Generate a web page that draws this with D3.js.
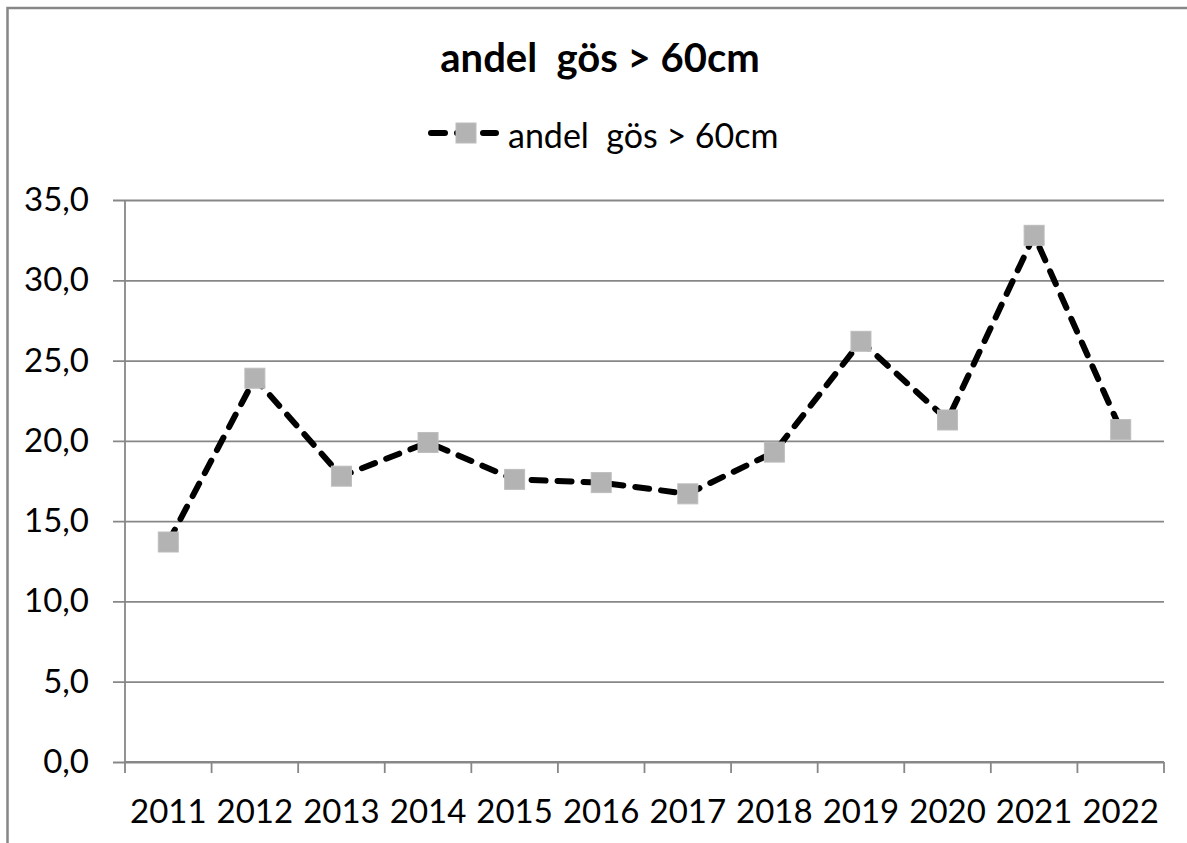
<!DOCTYPE html>
<html>
<head>
<meta charset="utf-8">
<script src="https://cdn.jsdelivr.net/npm/d3@7"></script>
<style>
	html, body { margin: 0; background: #fff; overflow: hidden; }
	svg { display: block; font-family: Lato, "Open Sans", sans-serif; }
	text { white-space: pre; }
</style>
</head>
<body>
<div id="chart"></div>
<script>
	const years = ['2011', '2012', '2013', '2014', '2015', '2016', '2017', '2018', '2019', '2020', '2021', '2022'];
	const andel = [13.7, 23.9, 17.8, 19.9, 17.6, 17.4, 16.7, 19.3, 26.2, 21.3, 32.8, 20.7];
	const yTicks = [0, 5, 10, 15, 20, 25, 30, 35];
	const seriesName = 'andel  gös > 60cm';

	const W = 1187, H = 843;
	let margin = { top: 200, right: 23, bottom: 81, left: 125 },
		width = W - margin.left - margin.right,
		height = H - margin.top - margin.bottom;

	const gridColor = '#878787';

	let svg = d3.select('#chart')
		.append('svg')
		.attr('width', W)
		.attr('height', H);

	//chart border: only left and top edges are inside the picture
	svg.append('path')
		.attr('d', `M7.5,${H}V8H${W}`)
		.attr('fill', 'none')
		.attr('stroke', gridColor)
		.attr('stroke-width', 2.5);

	svg.append('text')
		.attr('x', 600)
		.attr('y', 72)
		.attr('text-anchor', 'middle')
		.style('font-size', '40px')
		.style('font-weight', 'bold')
		.text(seriesName);

	let g = svg.append('g')
		.attr('transform', `translate(${margin.left}, ${margin.top})`);

	let x = d3.scaleBand()
		.domain(years)
		.range([0, width]);

	let y = d3.scaleLinear()
		.domain([0, 35])
		.range([height, 0]);

	//Y axis with gridlines
	let yAxis = d3.axisLeft(y)
		.tickValues(yTicks)
		.tickSize(12)
		.tickPadding(24)
		.tickFormat(d => d3.format('.1f')(d).replace('.', ','));

	let yg = g.append('g').call(yAxis);
	yg.select('.domain').remove();
	yg.selectAll('.tick line')
		.attr('x1', -12)
		.attr('x2', width)
		.attr('stroke', gridColor)
		.attr('stroke-width', 1.8);
	yg.selectAll('.tick text')
		.attr('fill', '#000')
		.style('font-size', '33px')
		.style('font-family', 'Lato, sans-serif');

	//vertical axis line
	g.append('line')
		.attr('x1', 0).attr('x2', 0)
		.attr('y1', 0).attr('y2', height)
		.attr('stroke', gridColor)
		.attr('stroke-width', 1.8);

	//X axis: labels centered in each band, ticks on band edges
	let xAxis = d3.axisBottom(x)
		.tickSize(0)
		.tickPadding(38);

	let xg = g.append('g')
		.attr('transform', `translate(0, ${height})`)
		.call(xAxis);
	xg.select('.domain').remove();
	xg.selectAll('.tick text')
		.attr('fill', '#000')
		.style('font-size', '33px')
		.style('font-family', 'Lato, sans-serif');

	g.append('line')
		.attr('x1', 0).attr('x2', width)
		.attr('y1', height).attr('y2', height)
		.attr('stroke', gridColor)
		.attr('stroke-width', 1.8);

	let edges = years.map(d => x(d)).concat([width]);
	g.selectAll('line.xtick')
		.data(edges)
		.enter()
		.append('line')
		.attr('class', 'xtick')
		.attr('x1', d => d).attr('x2', d => d)
		.attr('y1', height).attr('y2', height + 11)
		.attr('stroke', gridColor)
		.attr('stroke-width', 1.8);

	//series
	let data = years.map((d, i) => ({ year: d, value: andel[i] }));

	let line = d3.line()
		.x(d => x(d.year) + x.bandwidth() / 2)
		.y(d => y(d.value));

	g.append('path')
		.datum(data)
		.attr('d', line)
		.attr('fill', 'none')
		.attr('stroke', '#000')
		.attr('stroke-width', 6)
		.attr('stroke-linecap', 'round')
		.attr('stroke-dasharray', '14,12');

	const ms = 20;
	g.selectAll('rect.marker')
		.data(data)
		.enter()
		.append('rect')
		.attr('class', 'marker')
		.attr('x', d => x(d.year) + x.bandwidth() / 2 - ms / 2)
		.attr('y', d => y(d.value) - ms / 2)
		.attr('width', ms)
		.attr('height', ms)
		.attr('fill', '#b3b3b3')
		.attr('stroke', '#bdbdbd')
		.attr('stroke-width', 1);

	//legend
	let legend = svg.append('g').attr('transform', 'translate(431, 133)');
	legend.append('line')
		.attr('x1', 0).attr('x2', 65)
		.attr('y1', 0).attr('y2', 0)
		.attr('stroke', '#000')
		.attr('stroke-width', 6)
		.attr('stroke-linecap', 'round')
		.attr('stroke-dasharray', '14,12');
	legend.append('rect')
		.attr('x', 25).attr('y', -10)
		.attr('width', ms).attr('height', ms)
		.attr('fill', '#b3b3b3')
		.attr('stroke', '#bdbdbd')
		.attr('stroke-width', 1);
	legend.append('text')
		.attr('x', 77)
		.attr('y', 15)
		.style('font-size', '34px')
		.text(seriesName);
</script>
</body>
</html>
